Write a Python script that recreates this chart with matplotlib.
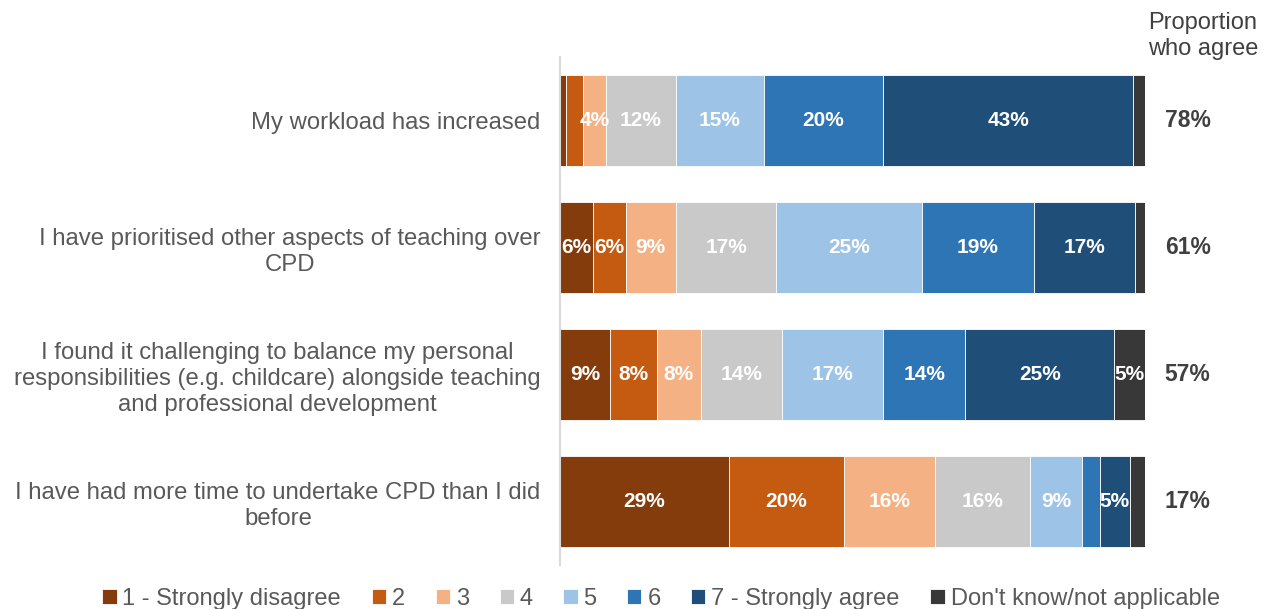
import matplotlib.pyplot as plt
import numpy as np

plt.rcParams['font.family'] = ['Liberation Sans', 'DejaVu Sans']

statements = [
    "My workload has increased",
    "I have prioritised other aspects of teaching over\nCPD",
    "I found it challenging to balance my personal\nresponsibilities (e.g. childcare) alongside teaching\nand professional development",
    "I have had more time to undertake CPD than I did\nbefore",
]
levels = ["1 - Strongly disagree", "2", "3", "4", "5", "6",
          "7 - Strongly agree", "Don't know/not applicable"]
colors = ["#843C0C", "#C55A11", "#F4B183", "#C9C9C9", "#9DC3E6",
          "#2E75B6", "#1F4E79", "#383838"]

# share of respondents (%) per level, one list per statement
values = [
    [1.0, 2.9, 3.9, 12.0, 15.0, 20.5, 42.7, 2.0],
    [5.6, 5.6, 8.6, 17.2, 24.8, 19.2, 17.3, 1.7],
    [8.6, 7.9, 7.6, 13.8, 17.4, 14.0, 25.4, 5.3],
    [28.9, 19.6, 15.6, 16.3, 8.8, 3.1, 5.1, 2.6],
]
agree = [78, 61, 57, 17]

data = np.array(values)
y = np.arange(len(statements))

fig = plt.figure(figsize=(12.74, 6.09), dpi=100)
ax = fig.add_axes([0.4396, 0.0722, 0.4591, 0.8342])

left = np.zeros(len(statements))
for j, lev in enumerate(levels):
    ax.barh(y, data[:, j], left=left, height=0.71, color=colors[j],
            edgecolor='white', linewidth=0.6, label=lev)
    for i in range(len(statements)):
        v = data[i, j]
        if v >= 3.5:
            ax.text(left[i] + v / 2, y[i], f"{v:.0f}%", ha='center', va='center',
                    color='white', fontsize=15, fontweight='bold')
    left += data[:, j]

for i, a in enumerate(agree):
    ax.text(103.4, y[i], f"{a}%", ha='left', va='center', color='#404040',
            fontsize=16.5, fontweight='bold')

fig.text(1203 / 1274, 1 - 36 / 609, "Proportion\nwho agree", ha='center', va='center',
         color='#404040', fontsize=17, linespacing=1.25)

ax.set_xlim(0, 100)
ax.set_ylim(len(statements) - 0.5, -0.5)
ax.set_yticks(y)
ax.set_yticklabels(statements, fontsize=17.2, color='#595959', multialignment='center',
                   linespacing=1.22)
ax.tick_params(axis='y', length=0, pad=14)
ax.set_xticks([])
for s in ['top', 'right', 'bottom']:
    ax.spines[s].set_visible(False)
ax.spines['left'].set_color('#D9D9D9')
ax.spines['left'].set_linewidth(1.5)

fig.legend(loc='center', bbox_to_anchor=(661 / 1274, 10 / 609), ncol=8, frameon=False,
           fontsize=17, handlelength=0.6, handleheight=0.6, handletextpad=0.25,
           columnspacing=1.3, labelcolor='#595959', borderaxespad=0)

fig.savefig("out.png", dpi=100)
